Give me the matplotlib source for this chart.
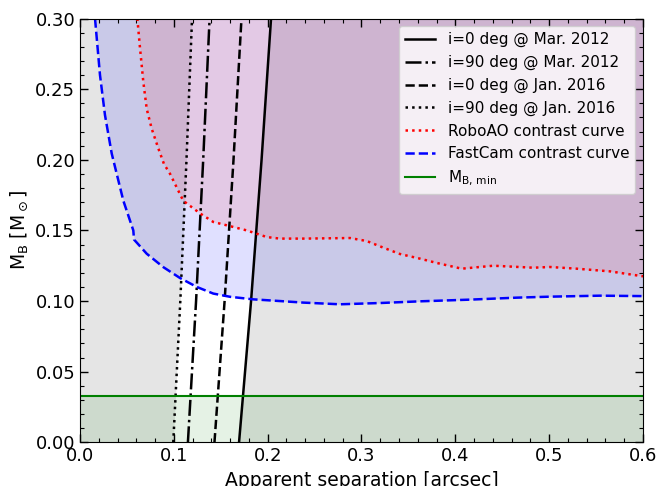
import numpy as np
import matplotlib
matplotlib.use("Agg")
import matplotlib.pyplot as plt
from matplotlib.ticker import MultipleLocator

# Mass axis for the separation curves
mass_pts = [0.0, 0.1, 0.2, 0.3]
sep_i0_mar2012 = [0.1695, 0.1823, 0.1935, 0.2036]
sep_i90_mar2012 = [0.1150, 0.1237, 0.1313, 0.1381]
sep_i0_jan2016 = [0.1433, 0.1541, 0.1636, 0.1721]
sep_i90_jan2016 = [0.0994, 0.1069, 0.1135, 0.1194]

# FastCam contrast curve
fastcam_x = [0.016, 0.0213, 0.0266, 0.0338, 0.0462, 0.0568, 0.0576, 0.0711, 0.0888,
             0.1066, 0.1244, 0.142, 0.160, 0.1847, 0.213, 0.238, 0.277, 0.3197,
             0.3624, 0.4156, 0.4654, 0.501, 0.554, 0.6]
fastcam_y = [0.300, 0.260, 0.2317, 0.2044, 0.171, 0.150, 0.1435, 0.1335, 0.124,
             0.1163, 0.110, 0.1053, 0.103, 0.1012, 0.100, 0.0989, 0.0977, 0.0986,
             0.0998, 0.101, 0.1024, 0.1031, 0.1038, 0.1035]

# RoboAO contrast curve
robo_x = [0.0611, 0.064, 0.0675, 0.0711, 0.0764, 0.0835, 0.0895, 0.096, 0.110,
          0.128, 0.142, 0.160, 0.1777, 0.199, 0.213, 0.238, 0.2878, 0.3055, 0.3232,
          0.341, 0.3624, 0.380, 0.4068, 0.4405, 0.483, 0.501, 0.5294, 0.565, 0.6]
robo_y = [0.300, 0.2787, 0.255, 0.236, 0.222, 0.208, 0.197, 0.190, 0.171,
          0.162, 0.156, 0.153, 0.150, 0.1453, 0.1442, 0.1442, 0.1446, 0.1425, 0.1378,
          0.1333, 0.130, 0.127, 0.1229, 0.125, 0.1236, 0.1241, 0.1229, 0.121, 0.1175]

mb_min = 0.033

fig = plt.figure(figsize=(6.59, 4.86), dpi=100)
ax = fig.add_axes([0.1214, 0.0899, 0.8543, 0.8720])

# excluded regions (gray)
ax.fill_betweenx(mass_pts, 0.0, sep_i90_jan2016, color='black', alpha=0.1, lw=0)
ax.fill_betweenx(mass_pts, sep_i0_mar2012, 0.6, color='black', alpha=0.1, lw=0)
# contrast fills
ax.fill_between(fastcam_x, fastcam_y, 0.3, color='blue', alpha=0.12, lw=0)
ax.fill_between(robo_x, robo_y, 0.3, color='red', alpha=0.1, lw=0)
ax.axhspan(0, mb_min, color='green', alpha=0.1, lw=0)

ax.plot(sep_i0_mar2012, mass_pts, 'k-', lw=1.8, label='i=0 deg @ Mar. 2012')
ax.plot(sep_i90_mar2012, mass_pts, 'k-.', lw=1.8, label='i=90 deg @ Mar. 2012')
ax.plot(sep_i0_jan2016, mass_pts, 'k--', lw=1.8, label='i=0 deg @ Jan. 2016')
ax.plot(sep_i90_jan2016, mass_pts, 'k:', lw=1.8, label='i=90 deg @ Jan. 2016')
ax.plot(robo_x, robo_y, color='red', ls=':', lw=1.8, label='RoboAO contrast curve')
ax.plot(fastcam_x, fastcam_y, color='blue', ls='--', lw=1.8, label='FastCam contrast curve')
ax.axhline(mb_min, color='green', lw=1.5, label=r'M$_{\rm B,\,min}$')

ax.set_xlim(0, 0.6)
ax.set_ylim(0, 0.3)
ax.xaxis.set_major_locator(MultipleLocator(0.1))
ax.xaxis.set_minor_locator(MultipleLocator(0.02))
ax.yaxis.set_major_locator(MultipleLocator(0.05))
ax.yaxis.set_minor_locator(MultipleLocator(0.01))
ax.tick_params(which='both', direction='in', top=True, right=True, labelsize=13)
ax.tick_params(which='major', length=6, width=1)
ax.tick_params(which='minor', length=3, width=0.8)

ax.set_xlabel('Apparent separation [arcsec]', fontsize=13.5)
ax.set_ylabel(r'M$_{\rm B}$ [M$_\odot$]', fontsize=13.5)

ax.legend(loc='upper right', fontsize=11)

fig.savefig('out.png', dpi=100)
